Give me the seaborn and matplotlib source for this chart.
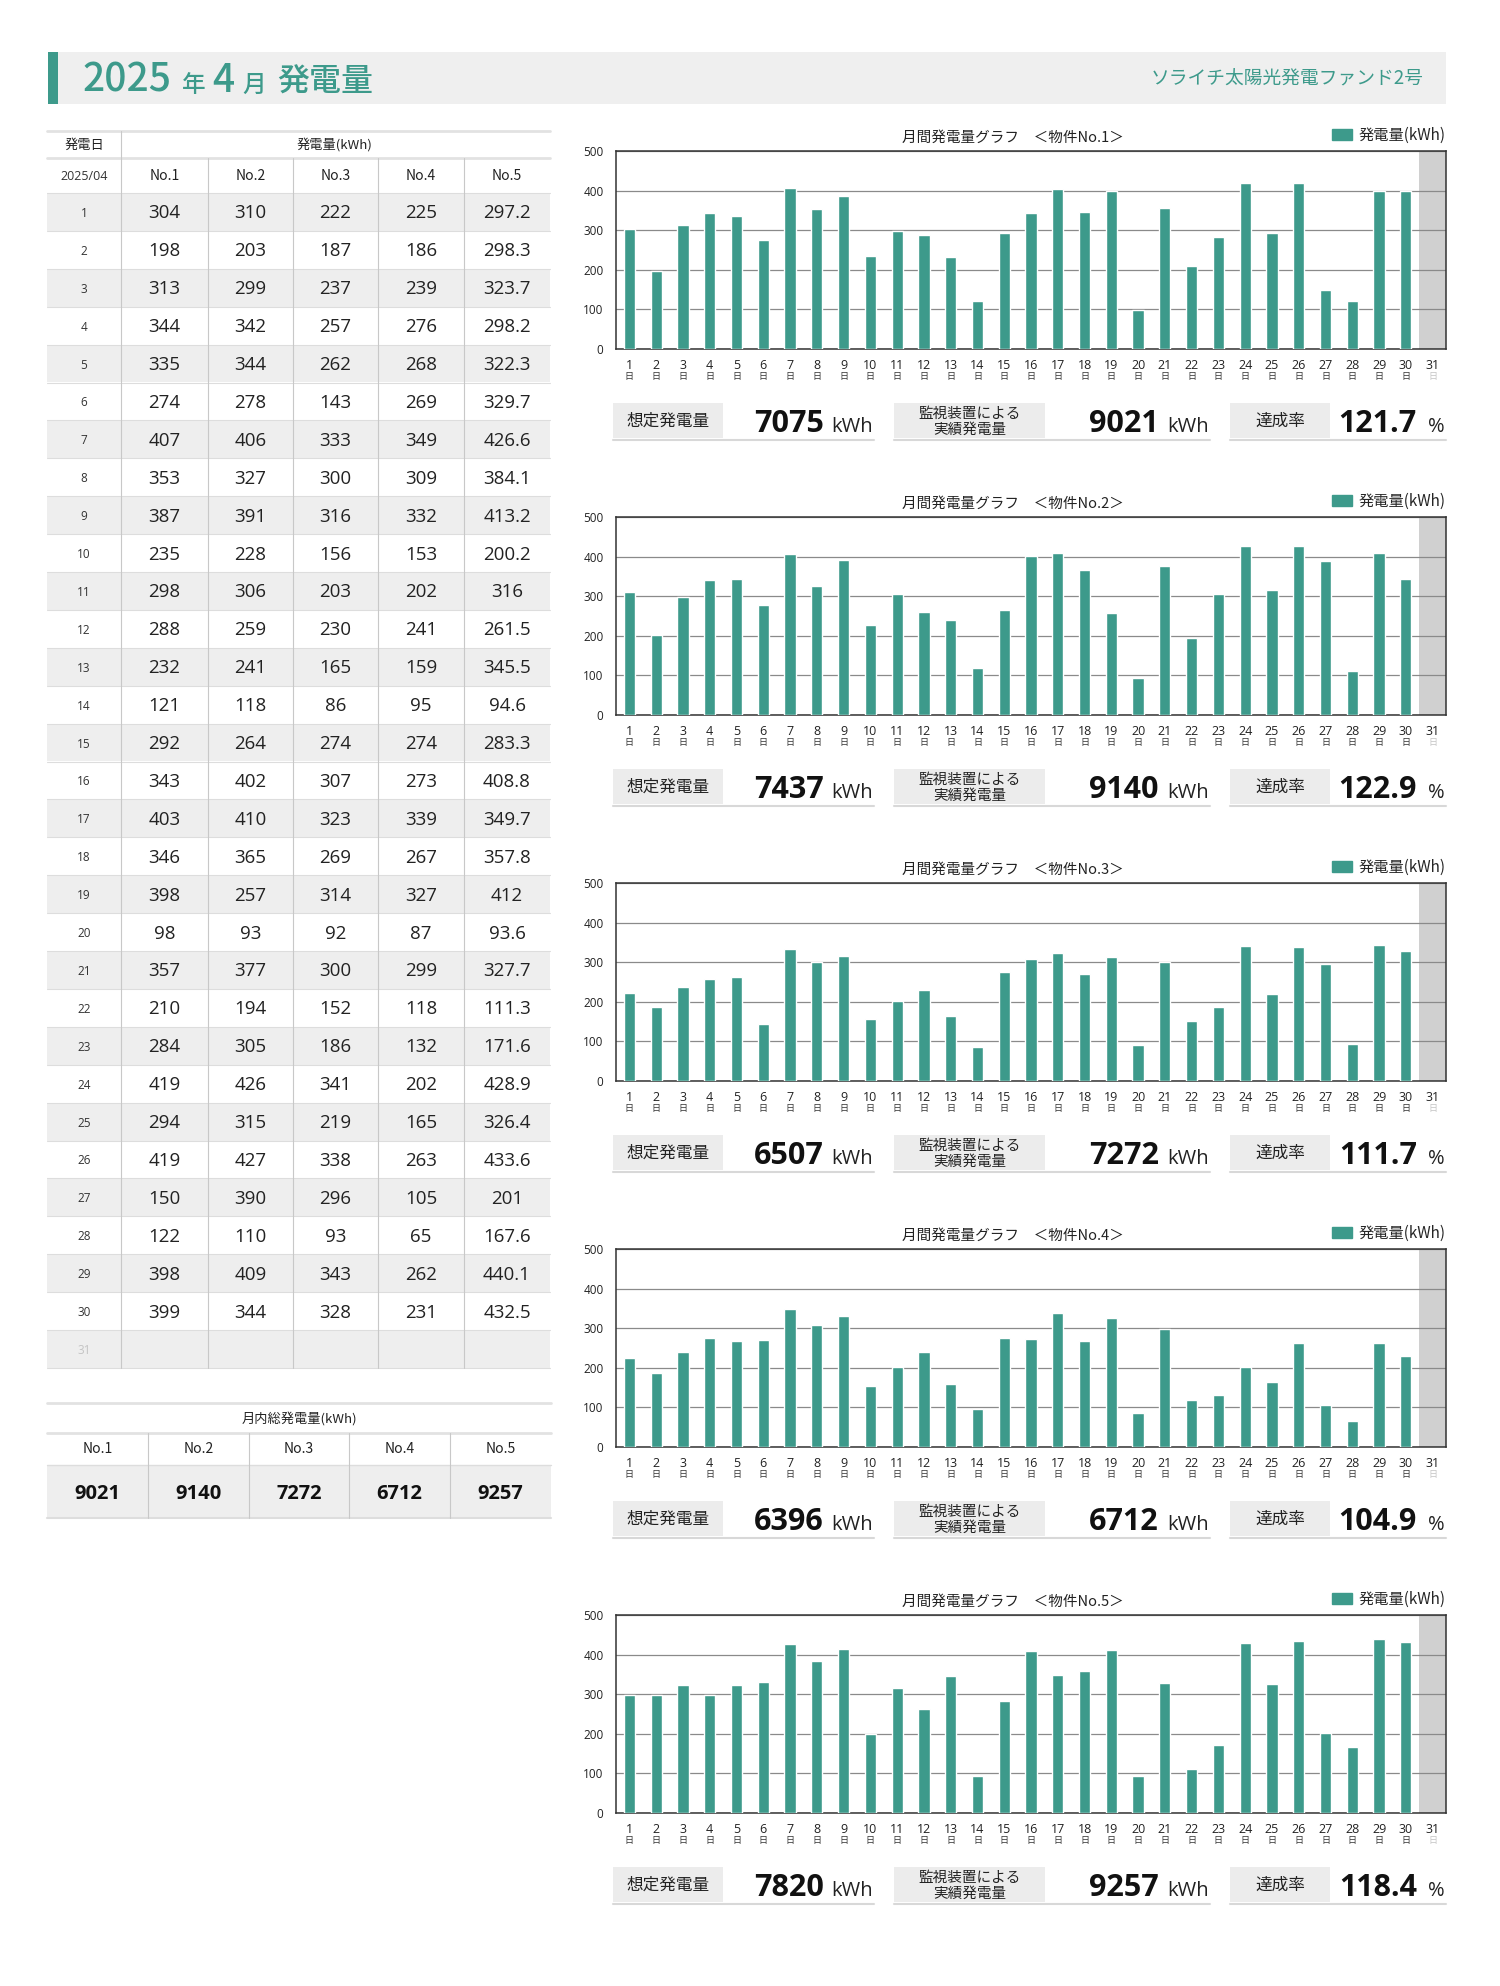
import pandas as pd
import matplotlib
matplotlib.use('Agg')
import matplotlib.pyplot as plt
import matplotlib.transforms as mtransforms
from matplotlib.patches import Rectangle, Patch
import seaborn as sns

# daily generation (kWh) for April 2025, one list per plant
days = list(range(1, 31))
no1 = [304, 198, 313, 344, 335, 274, 407, 353, 387, 235, 298, 288, 232, 121, 292,
       343, 403, 346, 398, 98, 357, 210, 284, 419, 294, 419, 150, 122, 398, 399]
no2 = [310, 203, 299, 342, 344, 278, 406, 327, 391, 228, 306, 259, 241, 118, 264,
       402, 410, 365, 257, 93, 377, 194, 305, 426, 315, 427, 390, 110, 409, 344]
no3 = [222, 187, 237, 257, 262, 143, 333, 300, 316, 156, 203, 230, 165, 86, 274,
       307, 323, 269, 314, 92, 300, 152, 186, 341, 219, 338, 296, 93, 343, 328]
no4 = [225, 186, 239, 276, 268, 269, 349, 309, 332, 153, 202, 241, 159, 95, 274,
       273, 339, 267, 327, 87, 299, 118, 132, 202, 165, 263, 105, 65, 262, 231]
no5 = [297.2, 298.3, 323.7, 298.2, 322.3, 329.7, 426.6, 384.1, 413.2, 200.2, 316, 261.5,
       345.5, 94.6, 283.3, 408.8, 349.7, 357.8, 412, 93.6, 327.7, 111.3, 171.6, 428.9,
       326.4, 433.6, 201, 167.6, 440.1, 432.5]

plants = ['No.1', 'No.2', 'No.3', 'No.4', 'No.5']
expected = [7075, 7437, 6507, 6396, 7820]
actual = [9021, 9140, 7272, 6712, 9257]
rate = [121.7, 122.9, 111.7, 104.9, 118.4]
month_totals = [9021, 9140, 7272, 6712, 9257]

df = pd.DataFrame({'day': days, 'No.1': no1, 'No.2': no2, 'No.3': no3,
                   'No.4': no4, 'No.5': no5})
long = df.melt(id_vars='day', var_name='plant', value_name='kwh')

TEAL = '#3d9a8b'
GRAY_BG = '#eeeeee'
NUM = ['Open Sans', 'Noto Sans CJK JP', 'DejaVu Sans']

sns.set_theme(style='white')
plt.rcParams['font.family'] = ['Noto Sans CJK JP', 'DejaVu Sans']

W, H = 1500, 1986
fig = plt.figure(figsize=(W / 100, H / 100), dpi=100)
fig.patch.set_facecolor('white')

# overlay axes in pixel units for the page layout
bg = fig.add_axes([0, 0, 1, 1])
bg.set_xlim(0, W)
bg.set_ylim(H, 0)
bg.axis('off')


def box(x0, y0, x1, y1):
    return [x0 / W, 1 - y1 / H, (x1 - x0) / W, (y1 - y0) / H]


# header band
bg.add_patch(Rectangle((48, 52), 1398, 52, color='#efefef', lw=0))
bg.add_patch(Rectangle((48, 52), 10, 52, color=TEAL, lw=0))
for x, s, fs in [(82, '2025', 28), (182, '年', 17), (212, '4', 28), (242, '月', 17), (277, '発電量', 23)]:
    bg.text(x, 92, s, fontsize=fs, color=TEAL, ha='left', va='baseline', fontweight='medium')
bg.text(1424, 79, 'ソライチ太陽光発電ファンド2号', fontsize=13.5, color=TEAL, ha='right', va='center')

# daily table
cols = [47, 121, 208, 293, 378, 464, 550]
row_h = 37.9
row0 = 193
bg.plot([47, 550], [131, 131], color='#e2e2e2', lw=2)
bg.plot([47, 550], [158, 158], color='#e2e2e2', lw=2)
bg.text(84, 145, '発電日', fontsize=9.5, ha='center', va='center', color='#222')
bg.text(335, 145, '発電量(kWh)', fontsize=9.5, ha='center', va='center', color='#222')
bg.text(84, 176, '2025/04', fontsize=9, ha='center', va='center', color='#333', family=NUM)
for j, p in enumerate(plants):
    bg.text((cols[j + 1] + cols[j + 2]) / 2, 176, p, fontsize=10, ha='center', va='center', color='#222')

for i in range(31):
    y = row0 + i * row_h
    if i % 2 == 0:
        bg.add_patch(Rectangle((47, y), 503, row_h, color=GRAY_BG, lw=0))
        bg.plot([47, 550], [y, y], color='#dddddd', lw=0.8)
        bg.plot([47, 550], [y + row_h, y + row_h], color='#dddddd', lw=0.8)
    yc = y + row_h / 2 + 1.5
    bg.text(84, yc, str(i + 1), fontsize=8.5, ha='center', va='center',
            color='#c4c4c4' if i == 30 else '#333', family=NUM)
    if i < 30:
        for j, p in enumerate(plants):
            bg.text((cols[j + 1] + cols[j + 2]) / 2, yc, f'{df[p][i]:g}', fontsize=13.5,
                    ha='center', va='center', color='#222', family=NUM)
tbl_bottom = row0 + 31 * row_h
bg.plot([121, 121], [131, tbl_bottom], color='#c8c8c8', lw=0.8)
for x in cols[2:-1]:
    bg.plot([x, x], [158, tbl_bottom], color='#c8c8c8', lw=0.8)

# monthly totals table
bg.plot([47, 551], [1403, 1403], color='#e2e2e2', lw=2)
bg.text(299, 1419, '月内総発電量(kWh)', fontsize=9.5, ha='center', va='center', color='#222')
bg.plot([47, 551], [1433, 1433], color='#e2e2e2', lw=2)
bg.add_patch(Rectangle((47, 1465), 504, 53, color=GRAY_BG, lw=0))
bg.plot([47, 551], [1465, 1465], color='#dddddd', lw=1)
bg.plot([47, 551], [1518, 1518], color='#dddddd', lw=1.5)
tcols = [47, 148, 249, 349, 450, 551]
for j, p in enumerate(plants):
    xc = (tcols[j] + tcols[j + 1]) / 2
    bg.text(xc, 1449, p, fontsize=10, ha='center', va='center', color='#222')
    bg.text(xc, 1494, str(month_totals[j]), fontsize=14.5, fontweight='bold',
            ha='center', va='center', color='#111', family=NUM)
for x in tcols[1:-1]:
    bg.plot([x, x], [1433, 1518], color='#c8c8c8', lw=0.8)

# charts
order = list(range(1, 32))
for k, p in enumerate(plants):
    top = 151 + 366 * k
    ax = fig.add_axes(box(616, top, 1446, top + 198))
    sub = long[long['plant'] == p]
    ax.axvspan(29.5, 30.5, color='#d0d0d0', lw=0, zorder=0)
    sns.barplot(data=sub, x='day', y='kwh', order=order, color=TEAL, saturation=1,
                width=0.42, ax=ax, zorder=3)
    ax.set_xlim(-0.5, 30.5)
    ax.set_ylim(0, 500)
    ax.set_yticks(range(0, 501, 100))
    ax.yaxis.grid(True, color='#8a8a8a', lw=0.9)
    ax.set_axisbelow(True)
    for sp in ax.spines.values():
        sp.set_visible(True)
        sp.set_color('#333333')
        sp.set_linewidth(1.1)
    ax.set_xlabel('')
    ax.set_ylabel('')
    ax.set_xticks(range(31))
    ax.set_xticklabels([str(d) for d in order], fontsize=9, family=NUM)
    ax.get_xticklabels()[-1].set_color('#c4c4c4')
    ax.tick_params(axis='both', length=0, colors='#222')
    ax.tick_params(axis='x', pad=7)
    ax.tick_params(axis='y', labelsize=8.5, pad=9)
    for lab in ax.get_yticklabels():
        lab.set_family(NUM)
    trans = mtransforms.blended_transform_factory(ax.transData, ax.transAxes)
    for i in range(31):
        ax.text(i, -0.115, '日', transform=trans, fontsize=6.5, ha='center', va='top',
                color='#c4c4c4' if i == 30 else '#333')
    ax.legend(handles=[Patch(color=TEAL)], labels=['発電量(kWh)'], loc='lower right',
              bbox_to_anchor=(1.0, 1.035), frameon=False, fontsize=11, handlelength=1.3,
              handleheight=0.75, handletextpad=0.45, borderaxespad=0, borderpad=0)
    bg.text(1013, top - 13, f'月間発電量グラフ　＜物件{p}＞', fontsize=10.5, ha='center',
            va='center', color='#222')

    # summary row under the chart
    y0, y1 = top + 252, top + 287
    groups = [
        (613, 723, 874, ['想定発電量'], str(expected[k]), 'kWh', 50),
        (894, 1045, 1210, ['監視装置による', '実績発電量'], str(actual[k]), 'kWh', 51),
        (1230, 1330, 1446, ['達成率'], f'{rate[k]:.1f}', '%', 29),
    ]
    for bx0, bx1, vx1, lab, val, unit, off in groups:
        bg.add_patch(Rectangle((bx0, y0), bx1 - bx0, y1 - y0, color='#ececec', lw=0))
        bg.plot([bx0, vx1], [y1 + 2, y1 + 2], color='#d8d8d8', lw=1.5)
        cy = (y0 + y1) / 2 + 1
        if len(lab) == 1:
            bg.text((bx0 + bx1) / 2, cy, lab[0], fontsize=12, ha='center', va='center', color='#222')
        else:
            bg.text((bx0 + bx1) / 2, cy - 8, lab[0], fontsize=10.5, ha='center', va='center', color='#222')
            bg.text((bx0 + bx1) / 2, cy + 8, lab[1], fontsize=10.5, ha='center', va='center', color='#222')
        bg.text(vx1 - off, y1 - 6, val, fontsize=22, fontweight='bold', ha='right',
                va='baseline', color='#111', family=NUM)
        bg.text(vx1 - 1, y1 - 6, unit, fontsize=14.5, ha='right', va='baseline', color='#222',
                family=NUM)

fig.savefig('out.png', dpi=100, facecolor='white')
